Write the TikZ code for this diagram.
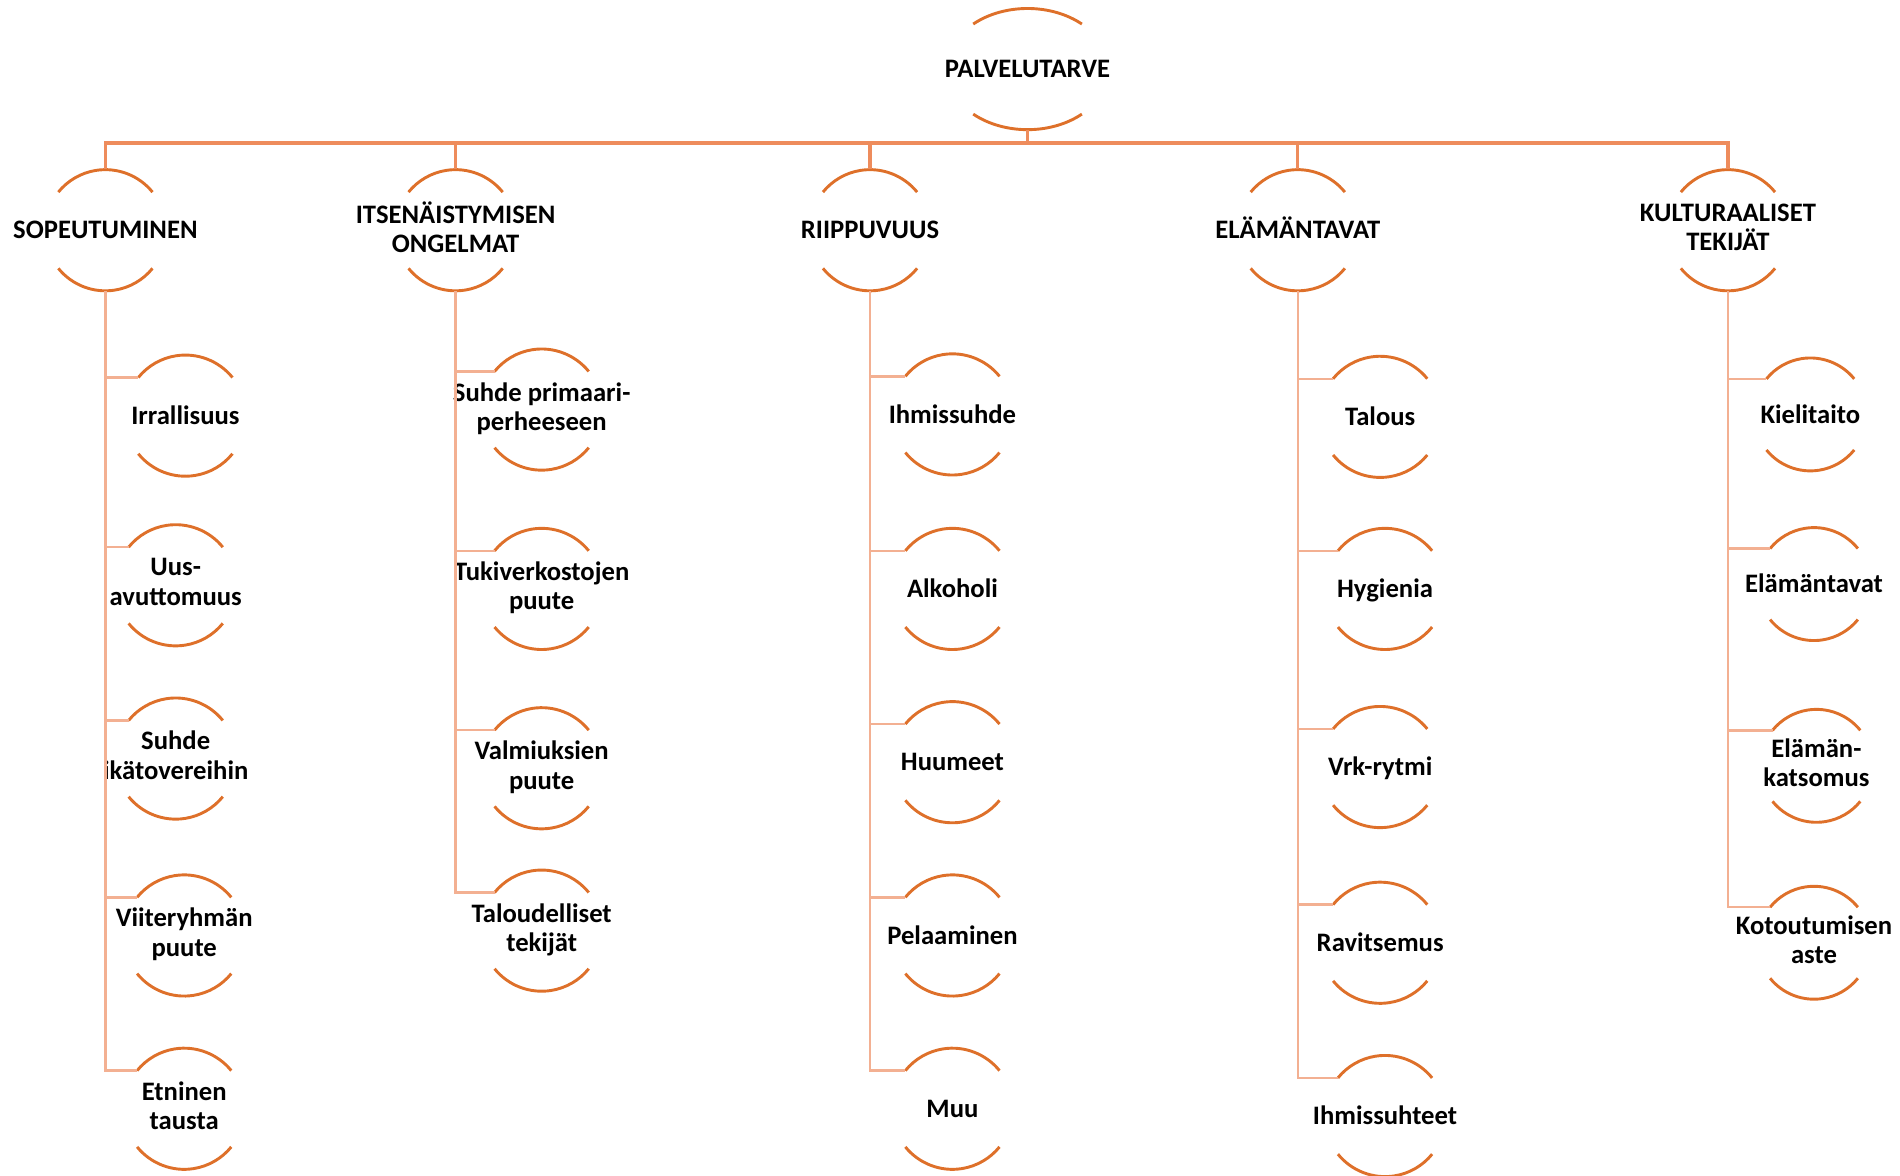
\documentclass[tikz,border=0pt]{standalone}
\usepackage{fontspec}
\setmainfont{Carlito}
\usetikzlibrary{calc}
\definecolor{arcorange}{RGB}{222,112,42}
\definecolor{barorange}{RGB}{238,140,92}
\definecolor{lineorange}{RGB}{243,176,146}
\newcommand\lblstrut{\rule[-2.6pt]{0pt}{12.3pt}}

\begin{document}
\begin{tikzpicture}[x=.5pt,y=.5pt,
	lbl/.style={font=\bfseries\fontsize{11}{12.2}\selectfont,align=center,inner sep=0,minimum height=50pt,
		execute at begin node=\lblstrut,execute at end node=\lblstrut},
	rim/.style={draw=arcorange,line width=1.2pt},
	bar/.style={draw=barorange,line width=1.3pt},
	twig/.style={draw=lineorange,line width=1pt}]
	\useasboundingbox (0,0) rectangle (1568,-970.5);
	\node[lbl] (top) at (848,-57) {PALVELUTARVE};
	\draw[rim] (top.center) ++(48:33.5pt and 25pt) arc[start angle=48,end angle=132,x radius=33.5pt,y radius=25pt]
	(top.center) ++(228:33.5pt and 25pt) arc[start angle=228,end angle=312,x radius=33.5pt,y radius=25pt];
	\coordinate (hub) at (848,-118);
	\draw[bar] (top.south) -- (hub);
	\foreach \n/\x/\t in {a/87/SOPEUTUMINEN,b/376/ITSENÄISTYMISEN\\ONGELMAT,c/718/RIIPPUVUUS,d/1071/ELÄMÄNTAVAT,e/1426/KULTURAALISET\\TEKIJÄT} {
		\node[lbl] (\n) at (\x,-190) {\t};
		\draw[rim] (\n.center) ++(39:25pt) arc (39:141:25pt) (\n.center) ++(219:25pt) arc (219:321:25pt);
		\draw[bar] (hub) -| (\n.north);
	}
	\foreach \p/\n/\x/\y/\r/\t in {
		a/a1/153/343/25/Irrallisuus,a/a2/145/483/25/Uus-\\avuttomuus,a/a3/145/626/25/Suhde\\ikätovereihin,a/a4/152/772/25/Viiteryhmän\\puute,a/a5/152/915/25/Etninen\\tausta,
		b/b1/447/338/25/Suhde primaari-\\perheeseen,b/b2/447/486/25/Tukiverkostojen\\puute,b/b3/447/634/25/Valmiuksien\\puute,b/b4/447/768/25/Taloudelliset\\tekijät,
		c/c1/786/342/25/Ihmissuhde,c/c2/786/486/25/Alkoholi,c/c3/786/629/25/Huumeet,c/c4/786/772/25/Pelaaminen,c/c5/786/915/25/Muu,
		d/d1/1139/344/25/Talous,d/d2/1143/486/25/Hygienia,d/d3/1139/633/25/Vrk-rytmi,d/d4/1139/778/25/Ravitsemus,d/d5/1143/921/25/Ihmissuhteet,
		e/e1/1494/342/23.3/Kielitaito,e/e2/1497/482/23.3/Elämäntavat,e/e3/1499/632/23.3/Elämän-\\katsomus,e/e4/1497/778/23.3/Kotoutumisen\\aste} {
		\node[lbl] (\n) at (\x,-\y) {\t};
		\draw[rim] (\n.center) ++(39:\r pt) arc (39:141:\r pt) (\n.center) ++(219:\r pt) arc (219:321:\r pt);
		\draw[twig] (\p.south) |- ($(\n.center)+(141:\r pt)$);
	}
\end{tikzpicture}
\end{document}
